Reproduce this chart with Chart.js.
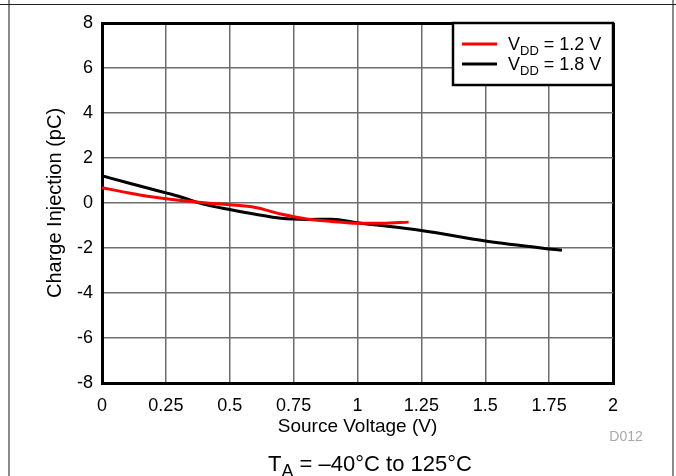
<!DOCTYPE html>
<html>
<head>
<meta charset="utf-8">
<script src="https://cdn.jsdelivr.net/npm/chart.js@4.4.1/dist/chart.umd.min.js"></script>
<style>
  html, body { margin: 0; padding: 0; background: #fff; }
  #wrap { width: 676px; height: 476px; }
</style>
</head>
<body>
<div id="wrap"><canvas id="chargeChart" width="676" height="476"></canvas></div>
<script>
const vddLevels = ['1.2', '1.8']

const sourceV12 = [0, 0.1, 0.2, 0.3, 0.4, 0.5, 0.6, 0.7, 0.8, 0.9, 1.0, 1.1, 1.2]
const charge12 = [0.68, 0.46, 0.27, 0.12, 0.01, -0.08, -0.2, -0.49, -0.71, -0.82, -0.9, -0.9, -0.85]

const sourceV18 = [0, 0.1, 0.2, 0.3, 0.4, 0.5, 0.6, 0.7, 0.8, 0.9, 1.0, 1.25, 1.5, 1.75, 1.8]
const charge18 = [1.21, 0.9, 0.6, 0.3, -0.06, -0.29, -0.5, -0.68, -0.73, -0.72, -0.88, -1.22, -1.69, -2.04, -2.1]

const xTickLabels = ['0', '0.25', '0.5', '0.75', '1', '1.25', '1.5', '1.75', '2']
const yTickLabels = ['-8', '-6', '-4', '-2', '0', '2', '4', '6', '8']

const seriesColors = ['#ff0000', '#000000']
const FONT = "'Liberation Sans', Arial, Helvetica, sans-serif"

const toPoints = (xs, ys) => xs.map((x, i) => ({ x: x, y: ys[i] }))

// text with a subscript part: [main, sub, rest]
function drawSubText(ctx, x, y, parts, size, align, subRatio) {
  const subSize = Math.round(size * (subRatio || 0.72))
  ctx.font = size + 'px ' + FONT
  const w0 = ctx.measureText(parts[0]).width
  const w2 = ctx.measureText(parts[2]).width
  ctx.font = subSize + 'px ' + FONT
  const w1 = ctx.measureText(parts[1]).width
  let start = x
  if (align === 'center') start = x - (w0 + w1 + w2) / 2
  ctx.textAlign = 'left'
  ctx.textBaseline = 'alphabetic'
  ctx.font = size + 'px ' + FONT
  ctx.fillText(parts[0], start, y)
  ctx.font = subSize + 'px ' + FONT
  ctx.fillText(parts[1], start + w0, y + size * 0.28)
  ctx.font = size + 'px ' + FONT
  ctx.fillText(parts[2], start + w0 + w1, y)
}

const decorations = {
  id: 'decorations',
  afterDraw(chart) {
    const ctx = chart.ctx
    const area = chart.chartArea
    ctx.save()

    // page frame
    ctx.strokeStyle = '#8a8a8a'
    ctx.lineWidth = 2
    ctx.beginPath()
    ctx.moveTo(9, 0); ctx.lineTo(9, 476)
    ctx.moveTo(673, 0); ctx.lineTo(673, 476)
    ctx.stroke()
    ctx.strokeStyle = '#222'
    ctx.lineWidth = 1
    ctx.beginPath()
    ctx.moveTo(0, 4.5); ctx.lineTo(676, 4.5)
    ctx.stroke()

    // legend box
    const bw = 160, bh = 62
    const bx = area.right - bw, by = area.top
    ctx.fillStyle = '#fff'
    ctx.fillRect(bx, by, bw, bh)
    ctx.strokeStyle = '#000'
    ctx.lineWidth = 2.5
    ctx.strokeRect(bx, by, bw, bh)
    chart.data.datasets.forEach((ds, i) => {
      const ly = by + 21 + i * 20
      ctx.strokeStyle = ds.borderColor
      ctx.lineWidth = 3
      ctx.beginPath()
      ctx.moveTo(bx + 9, ly); ctx.lineTo(bx + 44, ly)
      ctx.stroke()
      ctx.fillStyle = '#000'
      drawSubText(ctx, bx + 55, ly + 6, ['V', 'DD', ' = ' + vddLevels[i] + ' V'], 18, 'left')
    })

    // figure id
    ctx.fillStyle = '#a8a8a8'
    ctx.font = '14px ' + FONT
    ctx.textAlign = 'center'
    ctx.textBaseline = 'middle'
    ctx.fillText('D012', 626, 437)

    // condition line
    ctx.fillStyle = '#000'
    drawSubText(ctx, 370, 471, ['T', 'A', ' = \u201340\u00b0C to 125\u00b0C'], 22, 'center', 0.8)

    ctx.restore()
  }
}

const edgeLine = (edges) => (c) => (c.tick && edges.includes(c.tick.value)) ? '#000' : '#6e6e6e'
const edgeWidth = (edges) => (c) => (c.tick && edges.includes(c.tick.value)) ? 3 : 1.5

new Chart(document.getElementById('chargeChart').getContext('2d'), {
  type: 'line',
  data: {
    datasets: [{
      label: 'VDD = ' + vddLevels[0] + ' V',
      data: toPoints(sourceV12, charge12),
      borderColor: seriesColors[0],
      borderWidth: 3,
      pointRadius: 0,
      cubicInterpolationMode: 'monotone',
      fill: false
    }, {
      label: 'VDD = ' + vddLevels[1] + ' V',
      data: toPoints(sourceV18, charge18),
      borderColor: seriesColors[1],
      borderWidth: 3,
      pointRadius: 0,
      cubicInterpolationMode: 'monotone',
      fill: false
    }]
  },
  options: {
    responsive: false,
    animation: false,
    devicePixelRatio: 1,
    layout: {
      padding: { left: 0, top: 23, right: 63, bottom: 33 }
    },
    plugins: {
      legend: { display: false },
      tooltip: { enabled: false }
    },
    scales: {
      x: {
        type: 'linear',
        min: 0,
        max: 2,
        afterFit: (scale) => { scale.height = 60 },
        ticks: {
          stepSize: 0.25,
          padding: 12,
          color: '#000',
          font: { family: FONT, size: 18 },
          callback: (v, i) => xTickLabels[i]
        },
        grid: {
          drawTicks: false,
          color: edgeLine([0, 2]),
          lineWidth: edgeWidth([0, 2])
        },
        border: { color: '#000', width: 3 },
        title: {
          display: true,
          text: 'Source Voltage (V)',
          color: '#000',
          font: { family: FONT, size: 19 },
          padding: { top: 0, bottom: 5 }
        }
      },
      y: {
        min: -8,
        max: 8,
        afterFit: (scale) => { scale.width = 102 },
        ticks: {
          stepSize: 2,
          padding: 9,
          color: '#000',
          font: { family: FONT, size: 18 },
          callback: (v, i) => yTickLabels[i]
        },
        grid: {
          drawTicks: false,
          color: edgeLine([-8, 8]),
          lineWidth: edgeWidth([-8, 8])
        },
        border: { color: '#000', width: 3 },
        title: {
          display: true,
          text: 'Charge Injection (pC)',
          color: '#000',
          font: { family: FONT, size: 20 },
          padding: { top: 43, bottom: 0 }
        }
      }
    }
  },
  plugins: [decorations]
})
</script>
</body>
</html>
